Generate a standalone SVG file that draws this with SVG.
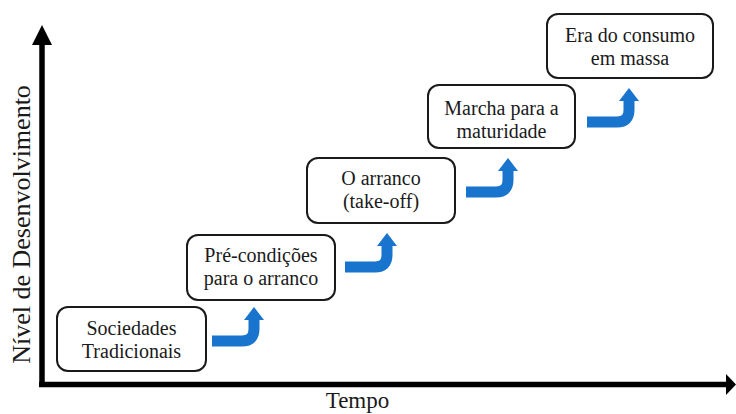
<svg xmlns="http://www.w3.org/2000/svg" width="736" height="414" viewBox="0 0 736 414">
<style>
.box{fill:#fff;stroke:#1a1a1a;stroke-width:2}
.t{font-family:"Liberation Serif","Times New Roman",serif;font-size:20px;fill:#1a1a1a;text-anchor:middle}
.ax{stroke:#000;stroke-width:5.5;fill:none}
.bl{stroke:#1874CD;stroke-width:11;fill:none}
.bh{fill:#1874CD}
</style>
<defs>
<g id="step">
<path class="bl" d="M0,0 H30 Q42,0 42,-12 V-21"/>
<polygon class="bh" points="32,-21 52,-21 42,-34"/>
</g>
</defs>
<rect width="736" height="414" fill="#fff"/>
<g id="axes">
<line class="ax" x1="42" y1="44" x2="42" y2="387"/>
<polygon points="42,25 32,45 52,45" fill="#000"/>
<line class="ax" x1="39" y1="384.5" x2="727" y2="384.5"/>
<polygon points="736,384.5 726,374 726,395" fill="#000"/>
<text class="t" style="font-size:26px" transform="translate(30,224.5) rotate(-90)">Nível de Desenvolvimento</text>
<text class="t" style="font-size:23px" x="357.5" y="408">Tempo</text>
</g>
<g id="connectors">
<use href="#step" x="212" y="341"/>
<use href="#step" x="345" y="267"/>
<use href="#step" x="466" y="192"/>
<use href="#step" x="587" y="122"/>
</g>
<g id="n1">
<rect class="box" x="57" y="307" width="149" height="64" rx="11"/>
<text class="t" x="131.5" y="335">Sociedades</text>
<text class="t" x="131.5" y="358">Tradicionais</text>
</g>
<g id="n2">
<rect class="box" x="187" y="235" width="148" height="65" rx="11"/>
<text class="t" x="261" y="262">Pré-condições</text>
<text class="t" x="261" y="285">para o arranco</text>
</g>
<g id="n3">
<rect class="box" x="307" y="158" width="148" height="65" rx="11"/>
<text class="t" x="381" y="185">O arranco</text>
<text class="t" x="381" y="208">(take-off)</text>
</g>
<g id="n4">
<rect class="box" x="428" y="85" width="147" height="63" rx="11"/>
<text class="t" x="501.5" y="115">Marcha para a</text>
<text class="t" x="501.5" y="138">maturidade</text>
</g>
<g id="n5">
<rect class="box" x="547" y="14" width="166" height="64" rx="11"/>
<text class="t" x="630" y="42">Era do consumo</text>
<text class="t" x="630" y="65">em massa</text>
</g>
</svg>
